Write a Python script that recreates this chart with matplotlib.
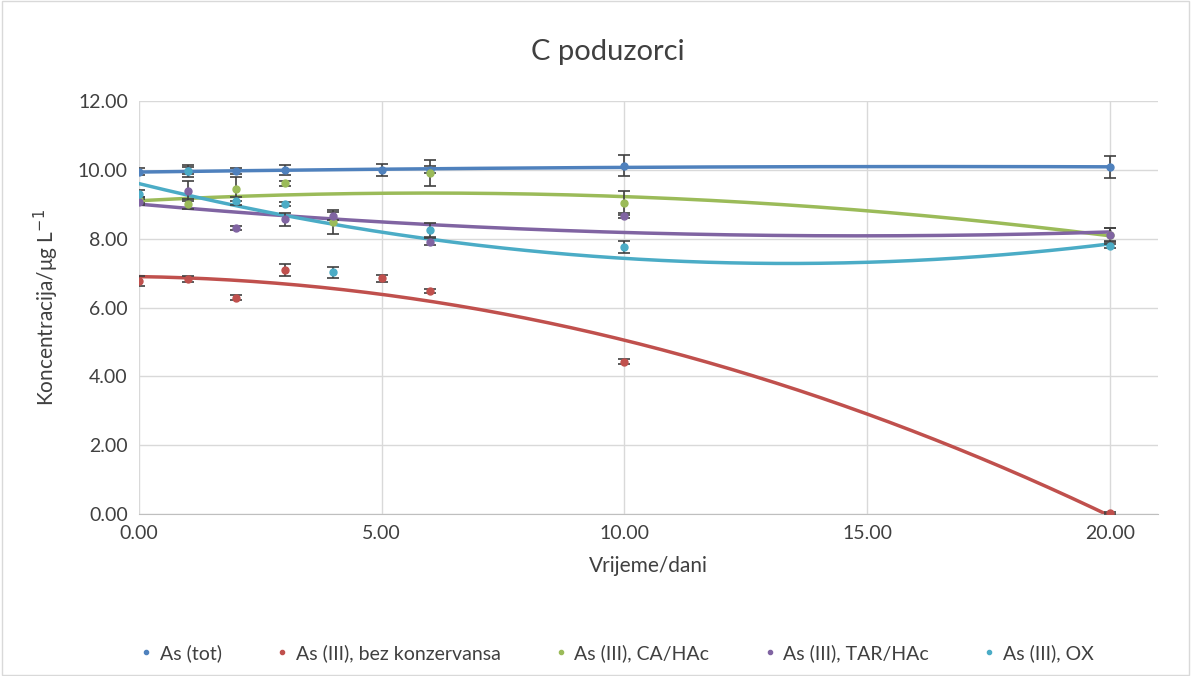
import matplotlib
matplotlib.use("Agg")
import matplotlib.pyplot as plt
import numpy as np

plt.rcParams['font.family'] = ['Lato', 'DejaVu Sans']

# sampling days
days = [0, 1, 2, 3, 4, 5, 6, 10, 20]

# measured concentrations (nan = no point shown)
nan = np.nan
as_tot   = [9.95, 9.97, 9.96, 9.99, nan, 9.99, 10.00, 10.12, 10.08]
as_bez   = [6.78, 6.83, 6.29, 7.10, nan, 6.85, 6.47, 4.43, 0.04]
as_ca    = [9.12, 9.00, 9.44, 9.61, 8.49, nan, 9.90, 9.04, 8.10]
as_tar   = [9.07, 9.39, 8.30, 8.56, 8.66, nan, 7.91, 8.67, 8.12]
as_ox    = [9.30, 9.97, 9.10, 9.00, 7.02, nan, 8.25, 7.75, 7.79]

err_tot = [0.11, 0.18, 0.08, 0.15, nan, 0.18, 0.10, 0.30, 0.31]
err_bez = [0.15, 0.10, 0.06, 0.17, nan, 0.10, 0.06, 0.08, 0.03]
err_ca  = [0.08, 0.15, 0.35, 0.08, 0.35, nan, 0.38, 0.35, 0.20]
err_tar = [0.08, 0.30, 0.06, 0.18, 0.12, nan, 0.10, 0.08, 0.20]
err_ox  = [0.10, 0.10, 0.12, 0.06, 0.15, nan, 0.20, 0.17, 0.06]

labels = ['As (tot)', 'As (III), bez konzervansa', 'As (III), CA/HAc',
          'As (III), TAR/HAc', 'As (III), OX']
colors = ['#4F81BD', '#C0504D', '#9BBB59', '#8064A2', '#4BACC6']

series = [as_tot, as_bez, as_ca, as_tar, as_ox]
errors = [err_tot, err_bez, err_ca, err_tar, err_ox]

fig = plt.figure(figsize=(11.91, 6.76), dpi=100)
ax = fig.add_axes([0.1167, 0.2396, 0.856, 0.611])

x = np.array(days, dtype=float)
xs = np.linspace(0, 20, 300)
for vals, err, col, lab in zip(series, errors, colors, labels):
    y = np.array(vals)
    e = np.array(err)
    m = ~np.isnan(y)
    # polynomial trendline (order 2), like the Excel one
    coef = np.polyfit(x[m], y[m], 2)
    ax.plot(xs, np.polyval(coef, xs), color=col, lw=2.5, zorder=2)
    ax.errorbar(x[m], y[m], yerr=e[m], fmt='none', ecolor='#404040',
                elinewidth=1.2, capsize=4, capthick=1.2, zorder=3)
    ax.plot(x[m], y[m], 'o', color=col, ms=5, zorder=4, label=lab)

ax.set_xlim(0, 21)
ax.set_ylim(0, 12)
ax.set_xticks([0, 5, 10, 15, 20])
ax.set_yticks(np.arange(0, 13, 2))
ax.set_xticklabels([f'{v:.2f}' for v in [0, 5, 10, 15, 20]])
ax.set_yticklabels([f'{v:.2f}' for v in np.arange(0, 13, 2)])
ax.grid(True, color='#D9D9D9', lw=1)
ax.set_axisbelow(True)
for s in ['top', 'right', 'left']:
    ax.spines[s].set_visible(False)
ax.spines['bottom'].set_color('#BFBFBF')
ax.tick_params(length=0, labelsize=14, colors='#404040', pad=8)

ax.set_xlabel('Vrijeme/dani', fontsize=15, color='#404040', labelpad=10)
ax.set_ylabel('Koncentracija/μg L$^{-1}$', fontsize=15, color='#404040', labelpad=12)
fig.text(0.51, 0.923, 'C poduzorci', fontsize=21, color='#404040', ha='center', va='center')

leg = fig.legend(loc='center', bbox_to_anchor=(0.518, 0.034), ncol=5, frameon=False,
                 fontsize=14, markerscale=0.6, handlelength=0.6, handletextpad=0.4,
                 columnspacing=2.8, labelcolor='#404040')

fig.patches.append(plt.Rectangle((0.002, 0.002), 0.996, 0.996, transform=fig.transFigure,
                                 fill=False, edgecolor='#D9D9D9', lw=1))

fig.savefig('out.png', dpi=100)
